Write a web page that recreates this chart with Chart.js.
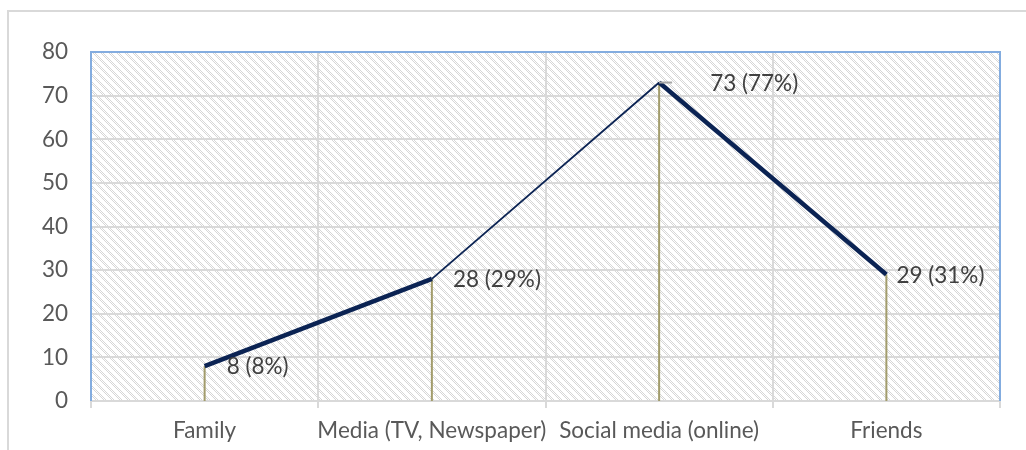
<!DOCTYPE html>
<html>
<head>
<meta charset="utf-8">
<script src="https://cdn.jsdelivr.net/npm/chart.js@4.4.1/dist/chart.umd.min.js"></script>
<style>
  html, body { margin: 0; padding: 0; background: #ffffff; }
  #wrap { position: relative; width: 1026px; height: 450px; }
</style>
</head>
<body>
<div id="wrap"><canvas id="chart" width="1026" height="450"></canvas></div>
<script>
// Sources of information: respondent counts and their shares
const categories = ['Family', 'Media (TV, Newspaper)', 'Social media (online)', 'Friends'];
const counts = [8, 28, 73, 29];
const shares = [8, 29, 77, 31];
const yMin = 0;
const yMax = 80;
const yStep = 10;

const FONT_FAMILY = 'Lato, "Liberation Sans", sans-serif';
const FONT_SIZE = 22.5;
const AXIS_TEXT = '#595959';
const LABEL_TEXT = '#404040';
const GRID = '#d9d9d9';
const LINE = '#0b2353';
const DROP = '#a29c6c';
const FRAME = '#83acdf';

// Light diagonal hatch used as the plot-area fill
function makeHatch() {
  const c = document.createElement('canvas');
  c.width = 8; c.height = 8;
  const g = c.getContext('2d');
  const img = g.createImageData(8, 8);
  for (let y = 0; y < 8; y++) {
    for (let x = 0; x < 8; x++) {
      const i = (y * 8 + x) * 4;
      const band = ((x - y) % 8 + 8) % 8;
      let v = 255;
      if (band < 4 && (x + y) % 2 === 0) v = 214;
      img.data[i] = v; img.data[i + 1] = v; img.data[i + 2] = v; img.data[i + 3] = 255;
    }
  }
  g.putImageData(img, 0, 0);
  return c;
}
const hatchTile = makeHatch();

const decorPlugin = {
  id: 'decor',
  beforeDraw(chart) {
    const { ctx, chartArea: a } = chart;
    ctx.save();
    // outer chart frame
    ctx.strokeStyle = GRID;
    ctx.lineWidth = 2;
    ctx.strokeRect(8, 11, 1200, 600);
    // hatched plot area
    ctx.fillStyle = ctx.createPattern(hatchTile, 'repeat');
    ctx.fillRect(a.left, a.top, a.right - a.left, a.bottom - a.top);
    ctx.restore();
  },
  beforeDatasetsDraw(chart) {
    const { ctx, chartArea: a } = chart;
    const meta = chart.getDatasetMeta(0);
    const base = chart.scales.y.getPixelForValue(0);
    ctx.save();
    // plot-area frame on left, top and right
    ctx.strokeStyle = FRAME;
    ctx.lineWidth = 2;
    ctx.beginPath();
    ctx.moveTo(a.left, a.bottom);
    ctx.lineTo(a.left, a.top);
    ctx.lineTo(a.right, a.top);
    ctx.lineTo(a.right, a.bottom);
    ctx.stroke();
    // drop lines from each point to the axis
    ctx.strokeStyle = DROP;
    ctx.lineWidth = 2;
    meta.data.forEach(pt => {
      ctx.beginPath();
      ctx.moveTo(pt.x, pt.y);
      ctx.lineTo(pt.x, base);
      ctx.stroke();
    });
    ctx.restore();
  },
  afterDatasetsDraw(chart) {
    const { ctx } = chart;
    const meta = chart.getDatasetMeta(0);
    const dx = [22, 21, 51, 10];
    ctx.save();
    // leader line for the displaced label
    const p = meta.data[2];
    ctx.strokeStyle = '#a6a6a6';
    ctx.lineWidth = 2;
    ctx.beginPath();
    ctx.moveTo(p.x, p.y);
    ctx.lineTo(p.x + 13, p.y);
    ctx.stroke();
    // value labels
    ctx.fillStyle = LABEL_TEXT;
    ctx.font = FONT_SIZE + 'px ' + FONT_FAMILY;
    ctx.textAlign = 'left';
    ctx.textBaseline = 'middle';
    meta.data.forEach((pt, i) => {
      const text = counts[i] + ' (' + shares[i] + '%)';
      ctx.fillText(text, pt.x + dx[i], pt.y + 1);
    });
    ctx.restore();
  }
};

new Chart(document.getElementById('chart'), {
  type: 'line',
  data: {
    labels: categories,
    datasets: [{
      data: counts,
      borderColor: LINE,
      borderWidth: 4.5,
      tension: 0,
      pointRadius: 0,
      pointHoverRadius: 0,
      fill: false,
      segment: {
        borderWidth: ctx => ctx.p0DataIndex === 1 ? 1.8 : 4.5
      }
    }]
  },
  options: {
    responsive: false,
    animation: false,
    devicePixelRatio: 1,
    layout: { padding: { left: 0, top: 52, right: 26, bottom: 0 } },
    plugins: {
      legend: { display: false },
      tooltip: { enabled: false },
      title: { display: false }
    },
    scales: {
      x: {
        type: 'category',
        offset: true,
        afterFit: s => { s.height = 49; },
        grid: {
          offset: true,
          color: GRID,
          lineWidth: 2,
          drawTicks: true,
          tickLength: 7
        },
        border: { display: true, color: GRID, width: 2 },
        ticks: {
          color: AXIS_TEXT,
          font: { family: FONT_FAMILY, size: FONT_SIZE },
          padding: 9,
          maxRotation: 0,
          autoSkip: false
        }
      },
      y: {
        min: yMin,
        max: yMax,
        afterFit: s => { s.width = 91; },
        grid: { color: GRID, lineWidth: 2, drawTicks: false },
        border: { display: false },
        ticks: {
          stepSize: yStep,
          color: AXIS_TEXT,
          font: { family: FONT_FAMILY, size: FONT_SIZE },
          padding: 23
        }
      }
    }
  },
  plugins: [decorPlugin]
});
</script>
</body>
</html>
